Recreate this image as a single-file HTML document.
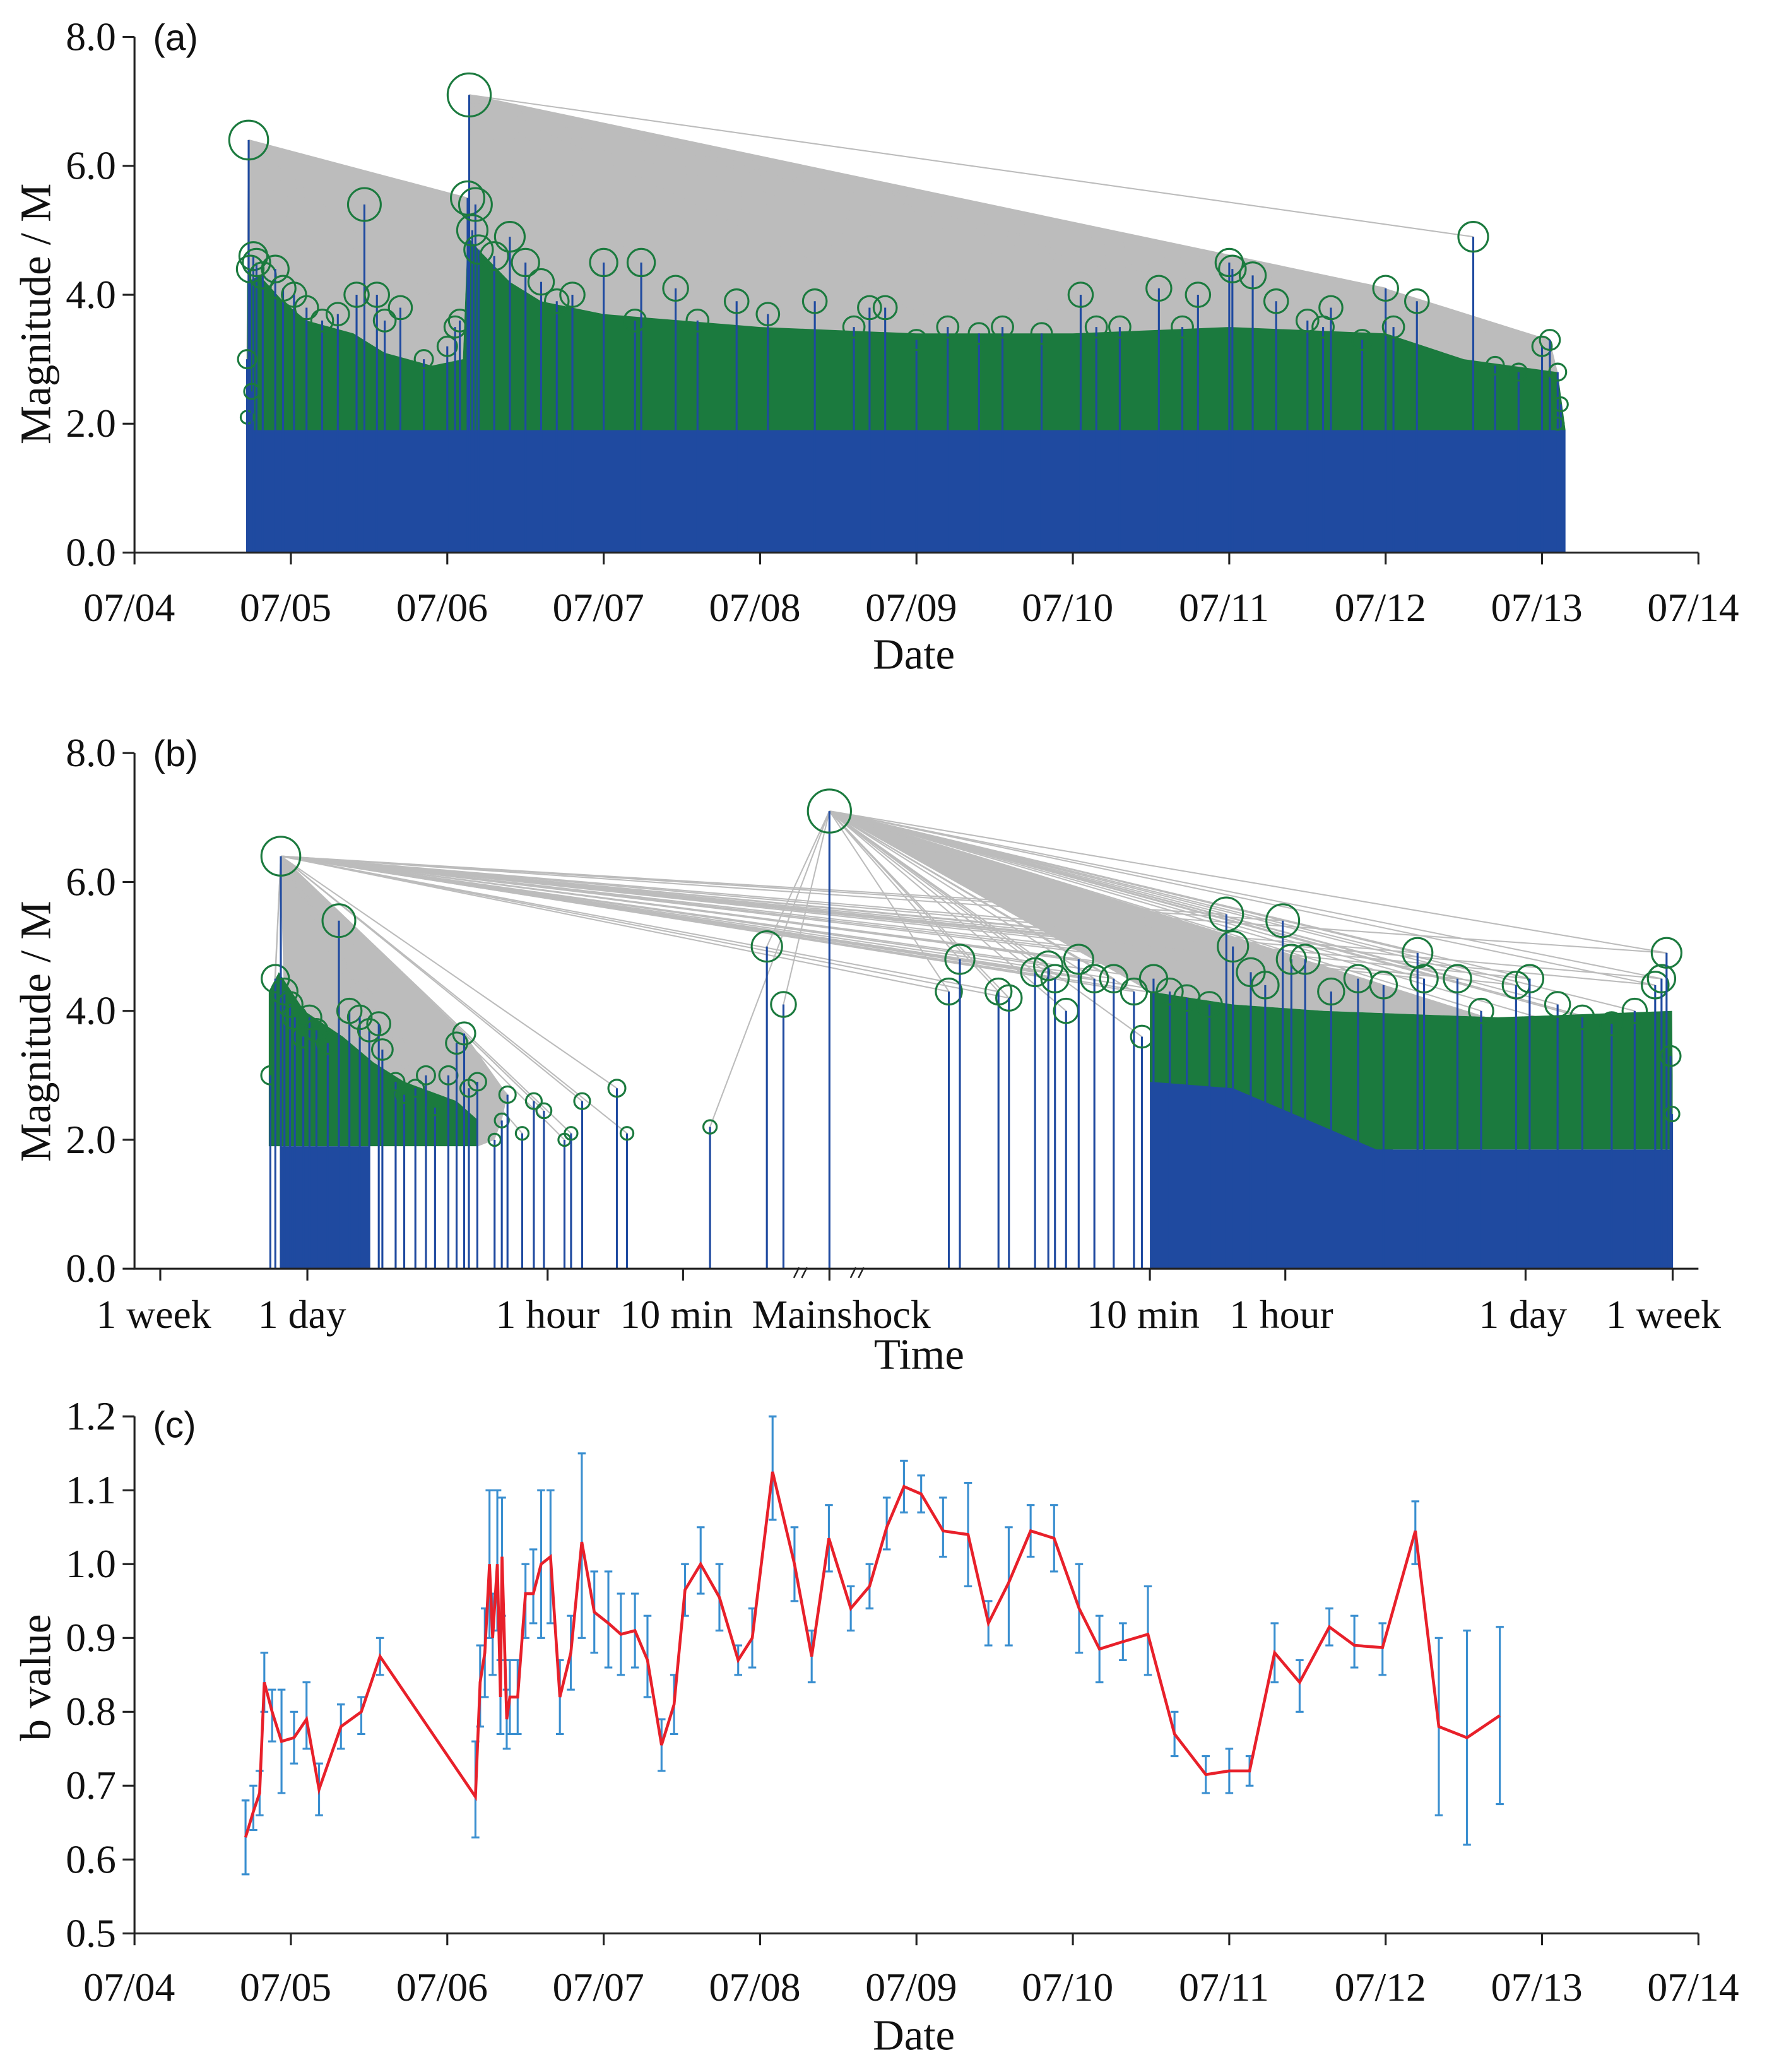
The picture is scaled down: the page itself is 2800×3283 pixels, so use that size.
<!DOCTYPE html>
<html><head><meta charset="utf-8"><style>
html,body{margin:0;padding:0;background:#fff}
svg{display:block}
text{font-family:"Liberation Serif",serif;fill:#111}
</style></head><body>
<svg id="fig" width="2800" height="3283" viewBox="0 0 1340 1571.1" preserveAspectRatio="none" xmlns="http://www.w3.org/2000/svg"></svg>
<script>
// ---------- Panel (a) data: days since 07/04 00:00, magnitudes ----------
const aDays = [4.73,4.76,4.78,4.74,4.82,4.9,4.95,5.02,5.1,5.2,5.3,5.47,5.42,5.55,5.6,5.7,5.85,6.0,6.05,6.08,6.14,6.13,6.18,6.16,6.2,6.3,6.4,6.5,6.6,6.7,6.8,7.0,7.24,7.46,7.2,7.6,7.85,8.05,8.35,8.6,8.7,8.8,9.0,9.2,9.4,9.55,9.8,10.05,10.15,10.3,10.55,10.7,10.8,11.0,11.02,11.15,11.3,11.5,11.6,11.65,11.85,12.0,12.05,12.2,12.56,12.7,12.85,13.0,13.05,13.1,13.12,13.1,4.72,4.72,4.75];
const aMags = [6.4,4.6,4.5,4.4,4.3,4.4,4.1,4.0,3.8,3.6,3.7,5.4,4.0,4.0,3.6,3.8,3.0,3.2,3.5,3.6,7.1,5.5,5.4,5.0,4.7,4.6,4.9,4.5,4.2,3.9,4.0,4.5,4.5,4.1,3.6,3.6,3.9,3.7,3.9,3.5,3.8,3.8,3.3,3.5,3.4,3.5,3.4,4.0,3.5,3.5,4.1,3.5,4.0,4.5,4.4,4.3,3.9,3.6,3.5,3.8,3.3,4.1,3.5,3.9,4.9,2.9,2.8,3.2,3.3,2.8,2.3,2.0,2.1,3.0,2.5];
const aBandDays = [4.72,4.72,4.8,4.95,5.1,5.4,5.6,5.9,6.1,6.13,6.2,6.4,6.6,7.0,7.5,8.0,9.0,10.0,11.0,12.0,12.5,13.1,13.15];
const aBandTop  = [1.9,4.2,4.3,3.9,3.6,3.4,3.1,2.9,3.0,4.9,4.7,4.2,3.9,3.7,3.6,3.5,3.4,3.4,3.5,3.4,3.0,2.8,1.9];
const aForeDay = 4.73, aForeMag = 6.4, aMainDay = 6.14, aMainMag = 7.1;
const dateTicks = [4,5,6,7,8,9,10,11,12,13,14];
const dateLabels = ["07/04","07/05","07/06","07/07","07/08","07/09","07/10","07/11","07/12","07/13","07/14"];
const magTicks = [0,2,4,6,8];
const magLabels = ["0.0","2.0","4.0","6.0","8.0"];

// ---------- Panel (b) data: minutes relative to mainshock ----------
const bTimes = [-2350,-2200,-2046,-1950,-1811,-1700,-1520,-1400,-1277,-1100,-949,-826,-720,-635,-560,-534,-448,-400,-345,-300,-266,-223,-200,-181,-170,-152,-121,-110,-102,-84,-72,-63,-48,-44,-38,-24,-21,-7,-3.3,-2.65,
 0.70,0.81,1.35,1.55,2.19,2.61,2.85,3.3,3.9,4.8,6.2,8.1,9,10.5,13,16.3,22,27.5,30,38,46,58,65,78,110,157,220,345,376,585,800,1270,1520,2200,3050,4500,6100,8000,8700,9300,9800,10000];
const bMags = [3.0,4.5,6.4,4.3,4.1,3.9,3.6,3.9,3.7,3.5,5.4,4.0,3.9,3.7,3.8,3.4,2.9,2.7,2.8,3.0,2.5,3.0,3.5,3.65,2.8,2.9,2.0,2.3,2.7,2.1,2.6,2.45,2.0,2.1,2.6,2.8,2.1,2.2,5.0,4.1,
 4.3,4.8,4.3,4.2,4.6,4.7,4.5,4.0,4.8,4.5,4.5,4.3,3.6,4.5,4.3,4.2,4.1,5.5,5.0,4.6,4.4,5.4,4.8,4.8,4.3,4.5,4.4,4.9,4.5,4.5,4.0,4.4,4.5,4.1,3.9,3.8,4.0,4.4,4.5,4.9,3.3,2.4];
const bForeTime = -2046, bForeMag = 6.4, bMainMag = 7.1;
const bLeftBandT = [-2400,-2400,-2100,-1500,-900,-600,-400,-200,-150,-150];
const bLeftBandTop = [1.9,4.3,4.6,4.0,3.6,3.2,2.9,2.6,2.3,1.9];
const bRightBandT = [10,30,100,1000,10000,10080];
const bRightBandTop = [4.3,4.1,4.0,3.9,4.0,3.0];
const bRightBandBotT = [10,30,100,200,10080];
const bRightBandBot = [2.9,2.8,2.2,1.85,1.85];
const bLeftBlueT = [-2046,-635];
const bRightBlueT = [10,16,30,60,150,250,10080];
const bRightBlueTop = [3.5,3.0,2.9,2.5,2.0,1.85,1.85];
const timeTicks = [-10080,-1440,-60,-10,0,10,60,1440,10080];
const timeLabels = ["1 week","1 day","1 hour","10 min","Mainshock","10 min","1 hour","1 day","1 week"];

// ---------- Panel (c) data ----------
const cDays = [4.71,4.76,4.80,4.83,4.88,4.94,5.02,5.10,5.18,5.32,5.45,5.57,6.18,6.21,6.24,6.27,6.29,6.32,6.34,6.35,6.38,6.40,6.45,6.50,6.55,6.60,6.66,6.72,6.79,6.86,6.94,7.03,7.11,7.20,7.28,7.37,7.45,7.52,7.62,7.74,7.86,7.95,8.08,8.22,8.33,8.44,8.58,8.70,8.81,8.92,9.03,9.17,9.33,9.46,9.59,9.73,9.88,10.04,10.17,10.32,10.48,10.65,10.85,11.00,11.13,11.29,11.45,11.64,11.80,11.98,12.19,12.34,12.52,12.73];
const cB = [0.63,0.665,0.69,0.84,0.80,0.76,0.765,0.79,0.695,0.78,0.80,0.875,0.685,0.84,0.88,1.00,0.90,1.00,0.82,1.01,0.79,0.82,0.82,0.96,0.96,1.00,1.01,0.82,0.88,1.03,0.935,0.92,0.905,0.91,0.87,0.755,0.81,0.965,1.00,0.955,0.87,0.90,1.125,1.00,0.875,1.035,0.94,0.97,1.05,1.105,1.095,1.045,1.04,0.92,0.975,1.045,1.035,0.94,0.885,0.895,0.905,0.77,0.715,0.72,0.72,0.88,0.84,0.915,0.89,0.887,1.045,0.78,0.765,0.795];
const cLo = [0.58,0.64,0.66,0.80,0.76,0.69,0.73,0.75,0.66,0.75,0.77,0.85,0.63,0.78,0.82,0.90,0.85,0.91,0.77,0.93,0.75,0.77,0.77,0.90,0.92,0.90,0.92,0.77,0.83,0.90,0.88,0.86,0.85,0.86,0.82,0.72,0.77,0.93,0.96,0.91,0.85,0.86,1.06,0.95,0.84,0.99,0.91,0.94,1.02,1.07,1.07,1.01,0.97,0.89,0.89,1.01,0.99,0.88,0.84,0.87,0.85,0.74,0.69,0.69,0.70,0.84,0.80,0.89,0.86,0.85,1.00,0.66,0.62,0.675];
const cHi = [0.68,0.70,0.72,0.88,0.83,0.83,0.80,0.84,0.73,0.81,0.82,0.90,0.76,0.89,0.94,1.10,0.96,1.10,0.87,1.09,0.83,0.87,0.87,1.00,1.02,1.10,1.10,0.87,0.93,1.15,0.99,0.99,0.96,0.96,0.93,0.79,0.85,1.00,1.05,1.00,0.89,0.94,1.20,1.05,0.91,1.08,0.97,1.00,1.09,1.14,1.12,1.09,1.11,0.95,1.05,1.08,1.08,1.00,0.93,0.92,0.97,0.80,0.74,0.75,0.74,0.92,0.87,0.94,0.93,0.92,1.085,0.90,0.91,0.915];
const bTicks = [0.5,0.6,0.7,0.8,0.9,1.0,1.1,1.2];
const bLabels = ["0.5","0.6","0.7","0.8","0.9","1.0","1.1","1.2"];

// ---------- scales ----------
const X0 = 102, X1 = 1288, DAYW = 118.6;
function xA(d){ return X0 + (d-4)*DAYW; }
function yA(m){ return 419 - m*48.875; }
function yB(m){ return 962 - m*48.875; }
function xB(t){
  if (t === 0) return 629;
  if (t < 0) return 518 - 132*Math.log10(-t/10);
  return 872 + 132*Math.log10(t/10);
}
function yC(b){ return 1466 - (b-0.5)*560; }

const NS = "http://www.w3.org/2000/svg";
const svg = document.getElementById('fig');
function mk(tag, attrs, parent){
  const e = document.createElementNS(NS, tag);
  for (const k in attrs) e.setAttribute(k, attrs[k]);
  (parent||svg).appendChild(e);
  return e;
}
function grp(parent){ return mk('g', {}, parent); }
function hull(pts){
  const p = pts.slice().sort((a,b)=>a[0]-b[0]||a[1]-b[1]);
  const cr=(o,a,b)=>(a[0]-o[0])*(b[1]-o[1])-(a[1]-o[1])*(b[0]-o[0]);
  const lo=[],up=[];
  for (const q of p){ while(lo.length>=2&&cr(lo[lo.length-2],lo[lo.length-1],q)<=0) lo.pop(); lo.push(q); }
  for (let i=p.length-1;i>=0;i--){ const q=p[i]; while(up.length>=2&&cr(up[up.length-2],up[up.length-1],q)<=0) up.pop(); up.push(q); }
  up.pop(); lo.pop(); return lo.concat(up);
}
const BLUE="#1f4aa0", GREEN="#1b7a3e", GRAY="#bcbcbc";

// ===== Panel A =====
const gA = grp();


{
  let pts = [[xA(aMainDay), yA(aMainMag)]];
  aDays.forEach((d,i)=>{ if (d>aMainDay && !(d>12.3 && aMags[i]>4)) pts.push([xA(d), yA(aMags[i])]); });
  aBandDays.forEach((d,i)=>{ if (d>=aMainDay-0.01) pts.push([xA(d), yA(aBandTop[i])]); });
  const p = mk('polygon', {points: hull(pts).map(p=>p.join(',')).join(' '), fill: GRAY}, gA);
  
  
  let pts2 = [[xA(aForeDay), yA(aForeMag)]];
  aDays.forEach((d,i)=>{ if (d>aForeDay && d<aMainDay) pts2.push([xA(d), yA(aMags[i])]); });
  aBandDays.forEach((d,i)=>{ if (d>=4.8 && d<=6.13) pts2.push([xA(d), yA(aBandTop[i])]); });
  const p2 = mk('polygon', {points: hull(pts2).map(p=>p.join(',')).join(' '), fill: GRAY}, gA);
  
  
  aDays.forEach((d,i)=>{
    if (d===aMainDay || d===aForeDay) return;
    const src = d > aMainDay ? [aMainDay,aMainMag] : [aForeDay,aForeMag];
    const l = mk('line', {x1:xA(src[0]), y1:yA(src[1]), x2:xA(d), y2:yA(aMags[i]), stroke:GRAY, 'stroke-width':1}, gA);
    
    
  });
}
{
  const r = mk('rect', {x:xA(4.72), y:yA(1.9), width:xA(13.15)-xA(4.72), height:yA(0)-yA(1.9), fill:BLUE}, gA);
  
  
}
{
  let pts = aBandDays.map((d,i)=>[xA(d), yA(aBandTop[i])]);
  const p = mk('polygon', {points: pts.map(p=>p.join(',')).join(' '), fill: GREEN}, gA);
  
  
}
aDays.forEach((d,i)=>{
  const s = mk('line', {x1:xA(d), y1:yA(0), x2:xA(d), y2:yA(aMags[i]), stroke:BLUE, 'stroke-width':1.5}, gA);
  
  
  const c = mk('circle', {cx:xA(d), cy:yA(aMags[i]), r:2.3*aMags[i], fill:'none', stroke:GREEN, 'stroke-width':1.5}, gA);
  
  
});

// ===== Panel B =====
const gB = grp();


{
  let pts = [[xB(0), yB(bMainMag)]];
  bRightBandT.forEach((t,i)=>pts.push([xB(t), yB(bRightBandTop[i])]));
  const p = mk('polygon', {points: pts.map(p=>p.join(',')).join(' '), fill: GRAY}, gB);
  
  
  let pts2 = [[xB(bForeTime), yB(bForeMag)]];
  bTimes.forEach((t,i)=>{ if (t>bForeTime && t<-100) pts2.push([xB(t), yB(bMags[i])]); });
  bLeftBandT.forEach((t,i)=>{ if (t>bForeTime) pts2.push([xB(t), yB(bLeftBandTop[i])]); });
  const p2 = mk('polygon', {points: hull(pts2).map(p=>p.join(',')).join(' '), fill: GRAY}, gB);
  
  
  bTimes.forEach((t,i)=>{
    if (t===bForeTime) return;
    const m = bMags[i];
    if (t > -10) {
      const l = mk('line', {x1:xB(0), y1:yB(bMainMag), x2:xB(t), y2:yB(m), stroke:GRAY, 'stroke-width':1}, gB);
      
      
    }
    if (t < -10 || (t > 0 && m >= 4.2)) {
      const l2 = mk('line', {x1:xB(bForeTime), y1:yB(bForeMag), x2:xB(t), y2:yB(m), stroke:GRAY, 'stroke-width':1}, gB);
      
      
    }
  });
}
{
  const r = mk('rect', {x:xB(bLeftBlueT[0]), y:yB(1.9), width:xB(bLeftBlueT[1])-xB(bLeftBlueT[0]), height:yB(0)-yB(1.9), fill:BLUE}, gB);
  
  
  let pts = bRightBlueT.map((t,i)=>[xB(t), yB(bRightBlueTop[i])]);
  pts.push([xB(bRightBlueT[bRightBlueT.length-1]), yB(0)]);
  pts.push([xB(bRightBlueT[0]), yB(0)]);
  const p = mk('polygon', {points: pts.map(p=>p.join(',')).join(' '), fill: BLUE}, gB);
  
  
  let gl = bLeftBandT.map((t,i)=>[xB(t), yB(bLeftBandTop[i])]);
  const pg = mk('polygon', {points: gl.map(p=>p.join(',')).join(' '), fill: GREEN}, gB);
  
  
  let gr = bRightBandT.map((t,i)=>[xB(t), yB(bRightBandTop[i])]);
  for (let i=bRightBandBotT.length-1;i>=0;i--) gr.push([xB(bRightBandBotT[i]), yB(bRightBandBot[i])]);
  const pr = mk('polygon', {points: gr.map(p=>p.join(',')).join(' '), fill: GREEN}, gB);
  
  
}
bTimes.forEach((t,i)=>{
  const s = mk('line', {x1:xB(t), y1:yB(0), x2:xB(t), y2:yB(bMags[i]), stroke:BLUE, 'stroke-width':1.5}, gB);
  
  
  const c = mk('circle', {cx:xB(t), cy:yB(bMags[i]), r:2.3*bMags[i], fill:'none', stroke:GREEN, 'stroke-width':1.5}, gB);
  
  
});
{
  const s = mk('line', {x1:xB(0), y1:yB(0), x2:xB(0), y2:yB(bMainMag), stroke:BLUE, 'stroke-width':1.5}, gB);
  
  
  const c = mk('circle', {cx:xB(0), cy:yB(bMainMag), r:2.3*bMainMag, fill:'none', stroke:GREEN, 'stroke-width':1.5}, gB);
  
  
}

// ===== Panel C =====
const gC = grp();


cDays.forEach((d,i)=>{
  const x = xA(d);
  const e = mk('path', {d:`M${x},${yC(cLo[i])}V${yC(cHi[i])}M${x-3},${yC(cLo[i])}h6M${x-3},${yC(cHi[i])}h6`, stroke:'#3a8fd0', 'stroke-width':1.5, fill:'none'}, gC);
  
  
});
{
  const pl = mk('polyline', {points: cDays.map((d,i)=>xA(d)+','+yC(cB[i])).join(' '), fill:'none', stroke:'#e8202a', 'stroke-width':2.2}, gC);
  
  
}

// ===== Axes =====
function text(x,y,s,size,anchor,parent,name,extra){
  const t = mk('text', Object.assign({x:x, y:y, 'font-size':size, 'text-anchor':anchor}, extra||{}), parent);
  t.textContent = s;
  
  
  return t;
}
function axisFrame(top, bottom, parent){
  const a = mk('path', {d:`M${X0},${top}V${bottom}H${X1}`, stroke:'#222', 'stroke-width':1.5, fill:'none'}, parent);
  
  
}
const TF = 30.5, AF = 33;
axisFrame(28, 419, gA);
magTicks.forEach((m,i)=>{
  const t = mk('line', {x1:93, y1:yA(m), x2:X0, y2:yA(m), stroke:'#222','stroke-width':1.5}, gA);
  
  
  text(88, yA(m)+10, magLabels[i], TF, 'end', gA, 'y-tick-label');
});
dateTicks.forEach((d,i)=>{
  const t = mk('line', {x1:xA(d), y1:419, x2:xA(d), y2:428, stroke:'#222','stroke-width':1.5}, gA);
  
  
  text(xA(d)-4, 471, dateLabels[i], TF, 'middle', gA, 'x-tick-label');
});
text(693, 507, 'Date', AF, 'middle', gA, 'x-axis-title');
text(38, 238, 'Magnitude / M', AF, 'middle', gA, 'y-axis-title', {transform:'rotate(-90 38 238)'});
text(116, 38, '(a)', 28, 'start', gA, 'panel-label', {style:'font-family:"Liberation Sans",sans-serif'});

axisFrame(571, 962, gB);
magTicks.forEach((m,i)=>{
  const t = mk('line', {x1:93, y1:yB(m), x2:X0, y2:yB(m), stroke:'#222','stroke-width':1.5}, gB);
  
  
  text(88, yB(m)+10, magLabels[i], TF, 'end', gB, 'y-tick-label');
});
const tdx = [-5,-4,0,-5,9,-5,-3,-2,-7];
timeTicks.forEach((tt,i)=>{
  const x = xB(tt);
  const t = mk('line', {x1:x, y1:962, x2:x, y2:971, stroke:'#222','stroke-width':1.5}, gB);
  
  
  text(x+tdx[i], 1007, timeLabels[i], TF, 'middle', gB, 'x-tick-label');
});
[608, 651].forEach(x=>{
  const b = mk('path', {d:`M${x-6},${969}q3,-6 4,-8M${x},${969}q3,-6 4,-8`, stroke:'#222','stroke-width':1.2, fill:'none'}, gB);
  
  
});
text(697, 1038, 'Time', AF, 'middle', gB, 'x-axis-title');
text(38, 782, 'Magnitude / M', AF, 'middle', gB, 'y-axis-title', {transform:'rotate(-90 38 782)'});
text(116, 581, '(b)', 28, 'start', gB, 'panel-label', {style:'font-family:"Liberation Sans",sans-serif'});

axisFrame(1074, 1466, gC);
bTicks.forEach((b,i)=>{
  const t = mk('line', {x1:93, y1:yC(b), x2:X0, y2:yC(b), stroke:'#222','stroke-width':1.5}, gC);
  
  
  text(88, yC(b)+10, bLabels[i], TF, 'end', gC, 'y-tick-label');
});
dateTicks.forEach((d,i)=>{
  const t = mk('line', {x1:xA(d), y1:1466, x2:xA(d), y2:1475, stroke:'#222','stroke-width':1.5}, gC);
  
  
  text(xA(d)-4, 1517, dateLabels[i], TF, 'middle', gC, 'x-tick-label');
});
text(693, 1554, 'Date', AF, 'middle', gC, 'x-axis-title');
text(38, 1272, 'b value', AF, 'middle', gC, 'y-axis-title', {transform:'rotate(-90 38 1272)'});
text(116, 1090, '(c)', 28, 'start', gC, 'panel-label', {style:'font-family:"Liberation Sans",sans-serif'});
</script>
</body></html>
